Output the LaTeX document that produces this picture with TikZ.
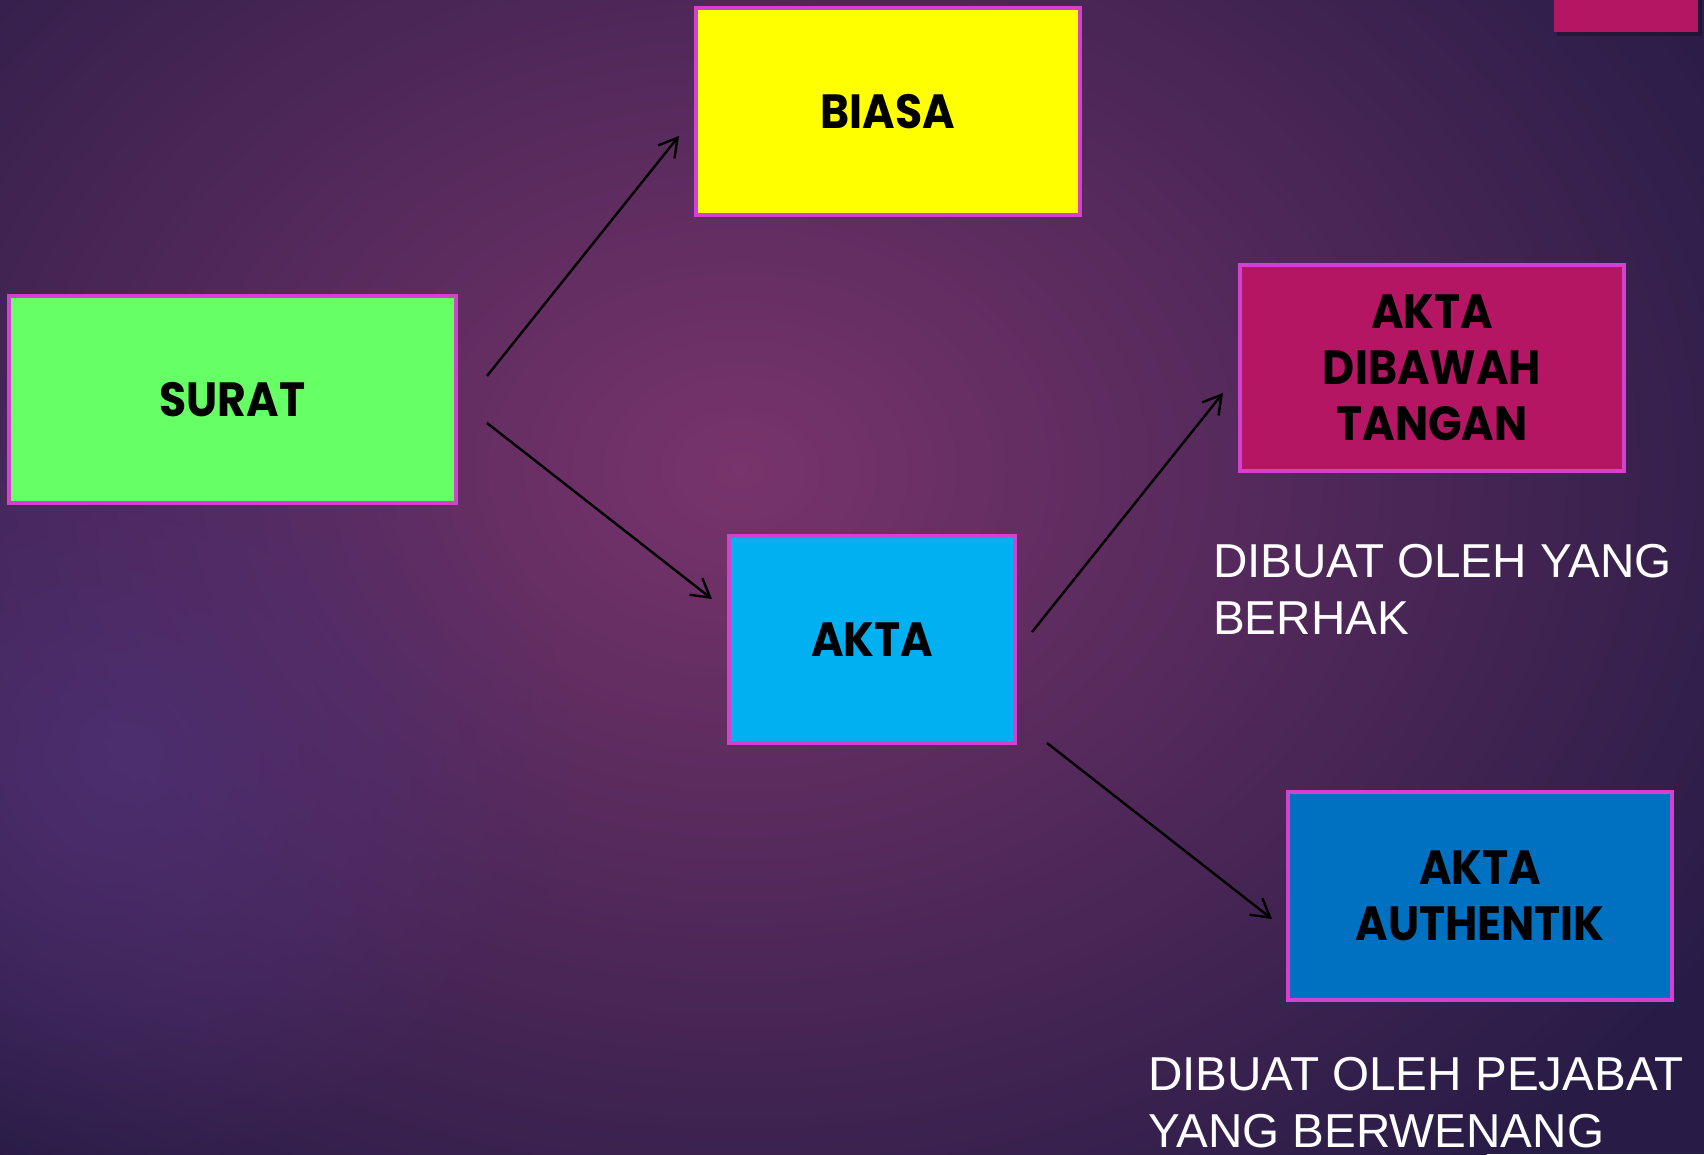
\documentclass[tikz,border=0pt]{standalone}
\usepackage{fontspec}
\setmainfont{Liberation Sans}
\newfontfamily\boxfont{Poppins}[FakeStretch=0.92]
\usetikzlibrary{arrows.meta,fadings}
\tikzfading[name=softfade, inner color=transparent!0, outer color=transparent!100]
\definecolor{bgdark}{RGB}{40,28,70}
\definecolor{bgblue}{RGB}{78,48,118}
\definecolor{bglight}{RGB}{120,52,108}
\definecolor{bordermag}{RGB}{212,64,208}
\definecolor{cgreen}{RGB}{102,255,102}
\definecolor{cyellow}{RGB}{255,255,0}
\definecolor{ccyan}{RGB}{0,176,240}
\definecolor{cblue}{RGB}{0,112,192}
\definecolor{cmag}{RGB}{180,22,100}
\tikzset{
  box/.style={draw=bordermag, line width=4pt, inner sep=0pt, outer sep=0pt,
    align=center, text=black, font=\boxfont\bfseries\fontsize{48}{56}\selectfont,
    minimum height=207pt},
  note/.style={anchor=base west, align=left, text=white, inner sep=0pt,
    font=\fontsize{47.6}{57}\selectfont},
  arr/.style={line width=2.4pt, -{Straight Barb[length=18pt,width=21pt,line width=2.4pt]}}
}
\begin{document}
\begin{tikzpicture}[x=1pt,y=-1pt]
\useasboundingbox (0,0) rectangle (1704,1154);
\fill[bgdark] (0,0) rectangle (1704,1154);
\begin{scope}
\clip (0,0) rectangle (1704,1154);
\shade[inner color=bglight, outer color=bgdark] (740,470) ellipse (1150 and 900);
\fill[bgblue, path fading=softfade, opacity=0.8] (120,760) ellipse (450 and 420);
\end{scope}
% top-right tab
\fill[black, opacity=0.25] (1557,0) rectangle (1702,36);
\fill[cmag] (1554,0) rectangle (1698,32);
% boxes
\node[box, fill=cgreen, minimum width=447pt] (surat) at (232.5,399.5) {SURAT};
\node[box, fill=cyellow, minimum width=384pt] (biasa) at (888,111.5) {BIASA};
\node[box, fill=ccyan, minimum width=286pt] (akta) at (872,639.5) {AKTA};
\node[box, fill=cmag, minimum width=384pt, minimum height=206pt] (adt) at (1432,368) {AKTA\\DIBAWAH\\TANGAN};
\node[box, fill=cblue, minimum width=384pt, minimum height=208pt] (aa) at (1480,896) {AKTA\\AUTHENTIK};
% notes (anchor = baseline of last line)
\node[note] (n1) at (1213,634) {DIBUAT OLEH YANG\\BERHAK};
\node[note] (n2) at (1148,1147) {DIBUAT OLEH PEJABAT\\YANG BERWENANG};
% arrows
\coordinate (s1) at (487,376);
\coordinate (e1) at (679,136);
\coordinate (s2) at (487,423);
\coordinate (e2) at (712,599);
\coordinate (s3) at (1032,632);
\coordinate (e3) at (1223,393);
\coordinate (s4) at (1047,743);
\coordinate (e4) at (1272,919);
\draw[arr] (s1) -- (e1);
\draw[arr] (s2) -- (e2);
\draw[arr] (s3) -- (e3);
\draw[arr] (s4) -- (e4);
\end{tikzpicture}
\end{document}
